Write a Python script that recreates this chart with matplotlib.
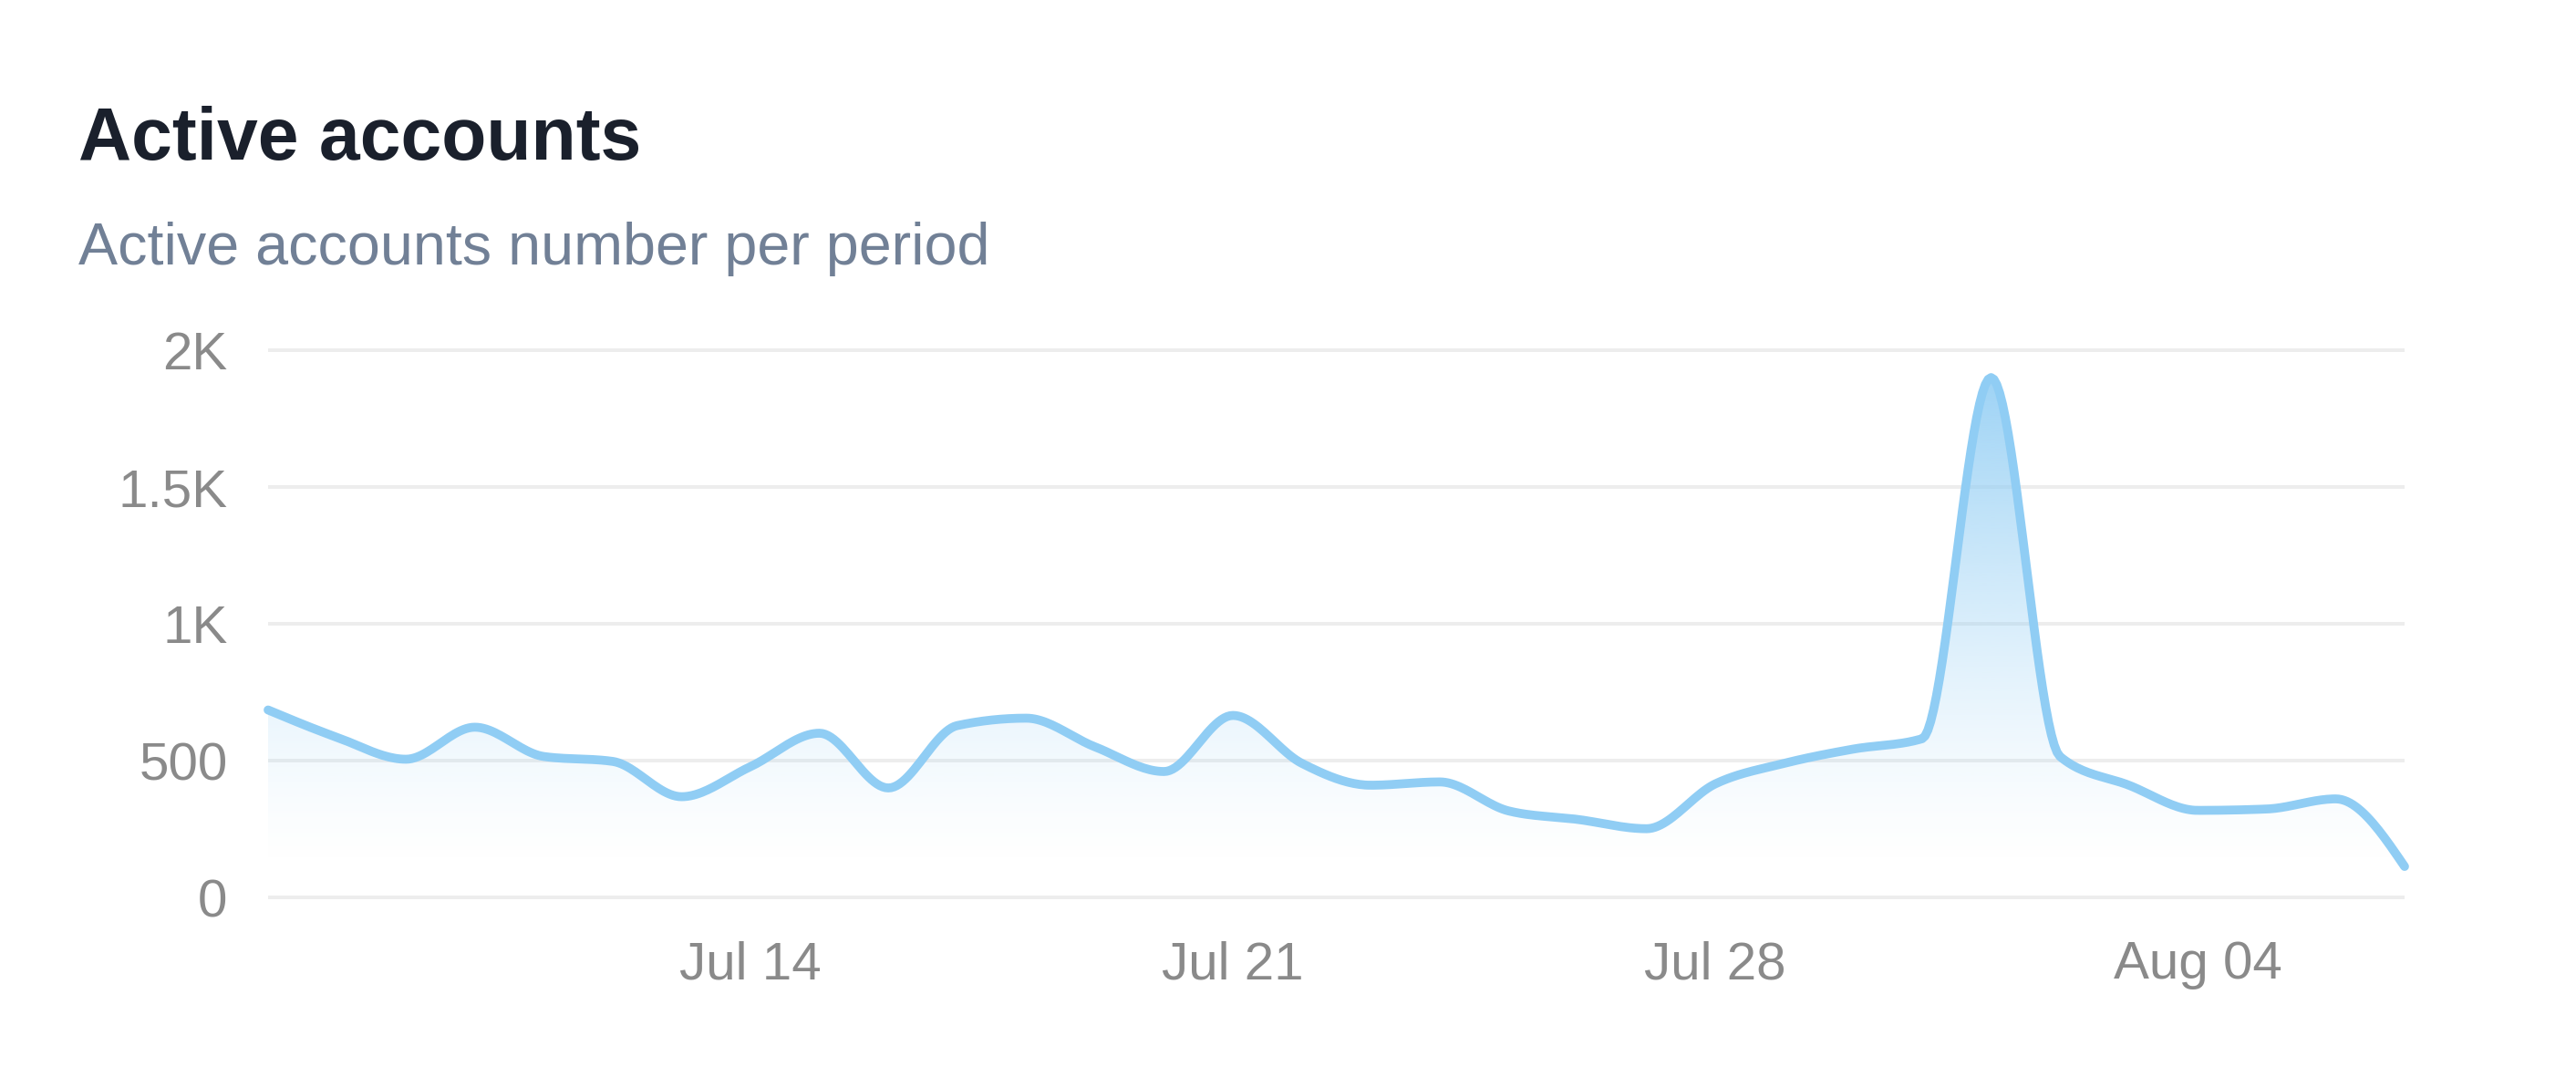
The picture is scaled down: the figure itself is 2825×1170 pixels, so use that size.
import numpy as np
import pandas as pd
import matplotlib
matplotlib.use("Agg")
import matplotlib.pyplot as plt
import matplotlib.dates as mdates
from matplotlib.patches import Polygon

# data (daily values, Jul 7 - Aug 7)
dates = pd.date_range("2024-07-07", "2024-08-07", freq="D")
active = [685, 585, 505, 622, 515, 497, 368, 478, 600, 400,
          628, 655, 550, 460, 665, 490, 410, 422, 316, 285,
          251, 415, 490, 542, 580, 1900, 515, 410, 318, 323,
          360, 113]
ytick_vals = [0, 500, 1000, 1500, 2000]
ytick_labels = ["0", "500", "1K", "1.5K", "2K"]
xtick_dates = pd.to_datetime(["2024-07-14", "2024-07-21", "2024-07-28", "2024-08-04"])

title = "Active accounts"
subtitle = "Active accounts number per period"

LINE = "#90CDF4"
GRID = "#EDEDED"
TICK = "#8A8A8A"

plt.rcParams['font.family'] = ['Liberation Sans', 'DejaVu Sans']


def monotone_x(x, y, n=24):
    # monotone cubic, same idea as d3's curveMonotoneX
    x = np.asarray(x, float)
    y = np.asarray(y, float)
    h = np.diff(x)
    s = np.diff(y) / h
    m = np.zeros_like(y)
    for i in range(1, len(y) - 1):
        p = (s[i - 1] * h[i] + s[i] * h[i - 1]) / (h[i - 1] + h[i])
        m[i] = (np.sign(s[i - 1]) + np.sign(s[i])) * min(abs(s[i - 1]), abs(s[i]), 0.5 * abs(p))
    m[0] = (3 * s[0] - m[1]) / 2
    m[-1] = (3 * s[-1] - m[-2]) / 2
    xs, ys = [], []
    for i in range(len(h)):
        t = np.linspace(0, 1, n, endpoint=False)
        h00 = 2 * t**3 - 3 * t**2 + 1
        h10 = t**3 - 2 * t**2 + t
        h01 = -2 * t**3 + 3 * t**2
        h11 = t**3 - t**2
        xs.append(x[i] + t * h[i])
        ys.append(h00 * y[i] + h10 * h[i] * m[i] + h01 * y[i + 1] + h11 * h[i] * m[i + 1])
    xs.append([x[-1]])
    ys.append([y[-1]])
    return np.concatenate(xs), np.concatenate(ys)


xnum = mdates.date2num(dates)
xs, ys = monotone_x(xnum, active)

fig = plt.figure(figsize=(28.25, 11.70), dpi=100)
ax = fig.add_axes([294 / 2825, 183 / 1170, (2637 - 294) / 2825, 606 / 1170])

# gradient fill under the curve (strong at the top of the data, clear at its bottom)
ymin, ymax = min(active), max(active)
grid_y = np.linspace(0, 2010, 600)
frac = np.clip((grid_y - ymin) / (ymax - ymin), 0, 1)
rgba = np.zeros((len(grid_y), 2, 4))
rgba[..., :3] = matplotlib.colors.to_rgb(LINE)
rgba[..., 3] = (0.88 * frac**1.35)[:, None]
img = ax.imshow(rgba, extent=[xnum[0], xnum[-1], 0, 2010], origin="lower",
                aspect="auto", interpolation="bilinear", zorder=1)
poly = Polygon(np.column_stack([np.r_[xs, xs[-1], xs[0]], np.r_[ys, 0, 0]]),
               closed=True, facecolor="none", edgecolor="none")
ax.add_patch(poly)
img.set_clip_path(poly)

ax.plot(xs, ys, color=LINE, lw=7, solid_capstyle="round", solid_joinstyle="round",
        clip_on=False, zorder=3)

ax.set_xlim(xnum[0], xnum[-1])
ax.set_ylim(-10, 2010)
ax.set_yticks(ytick_vals)
ax.set_yticklabels(ytick_labels)
ax.set_xticks(mdates.date2num(xtick_dates))
ax.xaxis.set_major_formatter(mdates.DateFormatter("%b %d"))
ax.grid(axis="y", color=GRID, lw=2.8, zorder=0)
ax.set_axisbelow(True)
for sp in ax.spines.values():
    sp.set_visible(False)
ax.tick_params(axis="both", length=0, labelsize=42, labelcolor=TICK)
ax.tick_params(axis="y", pad=32)
ax.tick_params(axis="x", pad=32)

fig.text(86 / 2825, 1 - 175 / 1170, title, fontsize=58, fontweight="bold",
         color="#1A202C", va="baseline", ha="left")
fig.text(86 / 2825, 1 - 290 / 1170, subtitle, fontsize=46.5,
         color="#718096", va="baseline", ha="left")

fig.savefig("out.png", dpi=100, facecolor="white")
